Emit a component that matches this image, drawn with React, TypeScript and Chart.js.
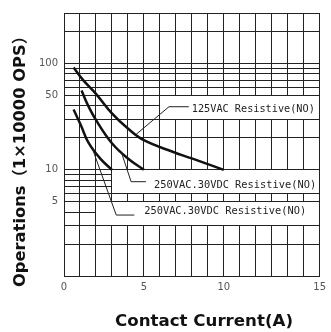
import React, { useEffect, useRef } from 'react';
import { Chart, registerables } from 'chart.js';

Chart.register(...registerables);

// ---- axis ticks ----
const xGridValues = [0, 1, 2, 3, 4, 5, 6, 7, 8, 9, 10, 11, 12, 13, 14, 15, 16];
const xLabelValues = [0, 5, 10, 16];
const xTickLabels = ['0', '5', '10', '15'];
const yGridValues = [1, 2, 3, 4, 5, 6, 7, 8, 9, 10, 20, 30, 40, 50, 60, 70, 80, 90, 100, 200, 300];
const yLabelValues = [5, 10, 50, 100];
const yTickLabels = ['5', '10', '50', '100'];

// ---- series ----
const seriesNames = ['125VAC Resistive(NO)', '250VAC.30VDC Resistive(NO)', '250VAC.30VDC Resistive(NO)'];
const curve125X = [0.6, 1.2, 2, 3, 4, 5, 6.8, 8, 10];
const curve125Y = [92, 70, 52, 34, 24.5, 19, 14.8, 12.8, 10];
const curve250aX = [1.1, 1.45, 2, 3, 4, 5];
const curve250aY = [56, 42, 29.5, 17.8, 12.8, 10];
const curve250bX = [0.6, 1.05, 1.55, 2.3, 3];
const curve250bY = [37, 26.4, 17.8, 12.6, 10];

const xTitle = 'Contact Current(A)';
const yTitle = 'Operations（1×10000 OPS）';

// annotation boxes / leaders in data units
const annotations = [
  { text: seriesNames[0], box: [6, 16, 30, 50], leader: [[4.5, 21.5], [6.57, 39.3], [7.81, 39.3]], at: [8.0, 37.0], w: 123 },
  { text: seriesNames[1], box: [3, 16, 6, 10], leader: [[3.58, 14.8], [4.2, 7.73], [5.13, 7.73]], at: [5.64, 7.19], w: 162 },
  { text: seriesNames[2], box: [2, 16, 3, 5], leader: [[1.8, 15.5], [3.27, 3.75], [4.4, 3.75]], at: [5.02, 4.03], w: 162 },
];

const GRID = '#222';

function zip(xs: number[], ys: number[]) {
  return xs.map((x, i) => ({ x, y: ys[i] }));
}

function fitText(ctx: CanvasRenderingContext2D, text: string, w: number) {
  const m = ctx.measureText(text).width;
  const s = m > 0 ? w / m : 1;
  ctx.scale(s, 1);
  ctx.fillText(text, 0, 0);
}

const annotPlugin = {
  id: 'annot',
  beforeDatasetsDraw(chart: any) {
    const { ctx, scales } = chart;
    const x = scales.x, y = scales.y;
    ctx.save();
    ctx.fillStyle = '#ffffff';
    for (const a of annotations) {
      const l = Math.round(x.getPixelForValue(a.box[0]) - 0.5) + 1;
      const r = Math.round(x.getPixelForValue(a.box[1]) - 0.5);
      const t = Math.round(y.getPixelForValue(a.box[3]) - 0.5) + 1;
      const b = Math.round(y.getPixelForValue(a.box[2]) - 0.5);
      ctx.fillRect(l, t, r - l, b - t);
    }
    ctx.restore();
  },
  afterDatasetsDraw(chart: any) {
    const { ctx, scales } = chart;
    const x = scales.x, y = scales.y;
    ctx.save();
    ctx.strokeStyle = '#222';
    ctx.lineWidth = 1;
    for (const a of annotations) {
      ctx.beginPath();
      a.leader.forEach((p, i) => {
        const px = x.getPixelForValue(p[0]);
        const py = y.getPixelForValue(p[1]);
        if (i === 0) ctx.moveTo(px, py); else ctx.lineTo(px, py);
      });
      ctx.stroke();
      ctx.save();
      ctx.fillStyle = '#222';
      ctx.font = '10px "DejaVu Sans Mono"';
      ctx.textAlign = 'left';
      ctx.textBaseline = 'middle';
      ctx.translate(x.getPixelForValue(a.at[0]), y.getPixelForValue(a.at[1]));
      fitText(ctx, a.text, a.w);
      ctx.restore();
    }
    // axis titles
    ctx.fillStyle = '#111';
    ctx.textAlign = 'center';
    ctx.textBaseline = 'middle';
    ctx.save();
    ctx.font = 'bold 16px "DejaVu Sans", "Noto Sans CJK SC"';
    ctx.translate(21, 157.5);
    ctx.rotate(-Math.PI / 2);
    fitText(ctx, yTitle, 259);
    ctx.restore();
    ctx.save();
    ctx.font = 'bold 16px "DejaVu Sans"';
    ctx.translate(204, 322);
    fitText(ctx, xTitle, 178);
    ctx.restore();
    ctx.restore();
  },
};

export default function App() {
  const ref = useRef<HTMLCanvasElement>(null);
  useEffect(() => {
    if (!ref.current) return;
    const lineDs = (label: string, data: any[]) => ({
      label,
      data,
      borderColor: '#111',
      borderWidth: 2.5,
      pointRadius: 0,
      fill: false,
      tension: 0.4,
    });
    const chart = new Chart(ref.current, {
      type: 'line',
      data: {
        datasets: [
          lineDs(seriesNames[0], zip(curve125X, curve125Y)),
          lineDs(seriesNames[1], zip(curve250aX, curve250aY)),
          lineDs(seriesNames[2] + ' ', zip(curve250bX, curve250bY)),
        ],
      },
      options: {
        responsive: false,
        animation: false,
        layout: { padding: { top: 13, right: 9, left: 0, bottom: 0 } },
        plugins: { legend: { display: false }, tooltip: { enabled: false } },
        scales: {
          x: {
            type: 'linear',
            min: 0,
            max: 16,
            afterBuildTicks: (s: any) => { s.ticks = xGridValues.map((v) => ({ value: v })); },
            afterFit: (s: any) => { s.height = 56; },
            ticks: {
              autoSkip: false,
              maxRotation: 0,
              padding: 5,
              color: '#555',
              font: { family: 'DejaVu Sans', size: 10 },
              callback: (v: any) => {
                const i = xLabelValues.indexOf(Number(v));
                return i >= 0 ? xTickLabels[i] : '';
              },
            },
            grid: { color: GRID, lineWidth: 1, drawTicks: false },
            border: { color: GRID, width: 1 },
          },
          y: {
            type: 'logarithmic',
            min: 1,
            max: 300,
            afterBuildTicks: (s: any) => { s.ticks = yGridValues.map((v) => ({ value: v })); },
            afterFit: (s: any) => { s.width = 64; },
            ticks: {
              autoSkip: false,
              padding: 6,
              color: '#555',
              font: { family: 'DejaVu Sans', size: 10 },
              callback: (v: any) => {
                const i = yLabelValues.indexOf(Number(v));
                return i >= 0 ? yTickLabels[i] : '';
              },
            },
            grid: { color: GRID, lineWidth: 1, drawTicks: false },
            border: { color: GRID, width: 1 },
          },
        },
      },
      plugins: [annotPlugin],
    });
    return () => chart.destroy();
  }, []);
  return (
    <div style={{ position: 'absolute', left: 0, top: 0, width: 331, height: 332, background: '#fff' }}>
      <canvas ref={ref} width={331} height={332} style={{ display: 'block' }} />
    </div>
  );
}
